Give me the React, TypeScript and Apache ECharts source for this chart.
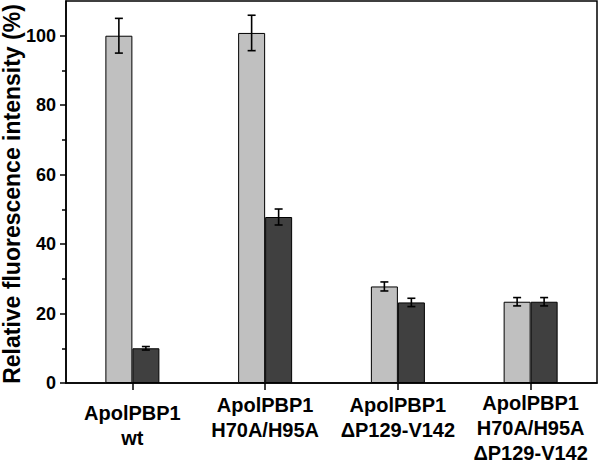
import React, { useEffect, useRef } from "react";
import * as echarts from "echarts";

const categories = [
  "ApolPBP1\nwt",
  "ApolPBP1\nH70A/H95A",
  "ApolPBP1\n\u0394P129-V142",
  "ApolPBP1\nH70A/H95A\n\u0394P129-V142",
];
const lightValues = [100, 100.8, 27.8, 23.4];
const lightErrors = [5, 5.1, 1.3, 1.2];
const darkValues = [10, 47.8, 23.2, 23.4];
const darkErrors = [0.5, 2.3, 1.2, 1.2];
const yMajorTicks = [0, 20, 40, 60, 80, 100];
const yMinorTicks = [10, 30, 50, 70, 90];
const yTitle = "Relative fluorescence intensity (%)";

const BAR_W = 27;
const FONT = "'Liberation Sans', Arial, sans-serif";

function errorSeries(values: number[], errors: number[], offset: number) {
  return {
    type: "custom",
    xAxisIndex: 0,
    yAxisIndex: 0,
    z: 10,
    data: values.map((v, i) => [i, v, errors[i]]),
    encode: { x: 0, y: 1 },
    renderItem: (params: any, api: any) => {
      const i = api.value(0);
      const v = api.value(1);
      const e = api.value(2);
      const top = api.coord([i, v + e]);
      const bot = api.coord([i, v - e]);
      const x = top[0] + offset;
      const cap = 4;
      const style = { stroke: "#000", lineWidth: 1.6 };
      return {
        type: "group",
        children: [
          { type: "line", shape: { x1: x, y1: top[1], x2: x, y2: bot[1] }, style },
          { type: "line", shape: { x1: x - cap, y1: top[1], x2: x + cap, y2: top[1] }, style },
          { type: "line", shape: { x1: x - cap, y1: bot[1], x2: x + cap, y2: bot[1] }, style },
        ],
      };
    },
  };
}

export default function App() {
  const ref = useRef<HTMLDivElement>(null);
  useEffect(() => {
    if (!ref.current) return;
    const chart = echarts.init(ref.current, undefined, { renderer: "svg" });
    chart.setOption({
      animation: false,
      backgroundColor: "#fff",
      grid: {
        left: 66,
        right: 3,
        top: 1,
        bottom: 80,
        show: true,
        borderColor: "#000",
        borderWidth: 1.5,
        containLabel: false,
        outerBoundsMode: "none",
      },
      graphic: [
        {
          type: "text",
          x: 12,
          y: 194,
          rotation: Math.PI / 2,
          style: {
            text: yTitle,
            fill: "#000",
            font: `bold 23px ${FONT}`,
            align: "center",
            verticalAlign: "middle",
          },
        },
      ],
      xAxis: {
        type: "category",
        data: categories.map((c, i) =>
          i === 0 ? { value: c, textStyle: { padding: [8, 0, 0, 0] } } : i === 3 ? { value: c, textStyle: { padding: [-2, 0, 0, 0] } } : c
        ),
        axisLine: { show: true, lineStyle: { color: "#000", width: 1.5 } },
        axisTick: { show: true, alignWithLabel: true, length: 7, lineStyle: { color: "#000", width: 1.5 } },
        axisLabel: {
          color: "#000",
          fontFamily: FONT,
          fontWeight: "bold",
          fontSize: 20,
          lineHeight: 25,
          margin: 9,
          interval: 0,
        },
        splitLine: { show: false },
      },
      yAxis: [
        {
          type: "value",
          position: "left",
          min: 0,
          max: 110,
          interval: 10,
          axisLine: { show: true, lineStyle: { color: "#000", width: 1.5 } },
          axisTick: { show: true, length: 6, customValues: yMajorTicks, lineStyle: { color: "#000", width: 1.5 } },
          axisLabel: {
            customValues: yMajorTicks,
            color: "#000",
            fontFamily: FONT,
            fontWeight: "bold",
            fontSize: 18,
            margin: 10,
          },
          splitLine: { show: false },
        },
        {
          type: "value",
          position: "left",
          min: 0,
          max: 110,
          interval: 10,
          axisLine: { show: false },
          axisTick: { show: true, length: 4, customValues: yMinorTicks, lineStyle: { color: "#000", width: 1.5 } },
          axisLabel: { show: false },
          splitLine: { show: false },
        },
      ],
      series: [
        {
          type: "bar",
          data: lightValues,
          barWidth: BAR_W,
          barGap: "0%",
          itemStyle: { color: "#c0c0c0", borderColor: "#000", borderWidth: 1 },
        },
        {
          type: "bar",
          data: darkValues,
          barWidth: BAR_W,
          barGap: "0%",
          itemStyle: { color: "#404040", borderColor: "#000", borderWidth: 1 },
        },
        errorSeries(lightValues, lightErrors, -BAR_W / 2),
        errorSeries(darkValues, darkErrors, BAR_W / 2),
      ],
    });
    return () => chart.dispose();
  }, []);
  return (
    <div
      ref={ref}
      style={{ position: "fixed", left: 0, top: 0, width: 600, height: 463, background: "#fff" }}
    />
  );
}
